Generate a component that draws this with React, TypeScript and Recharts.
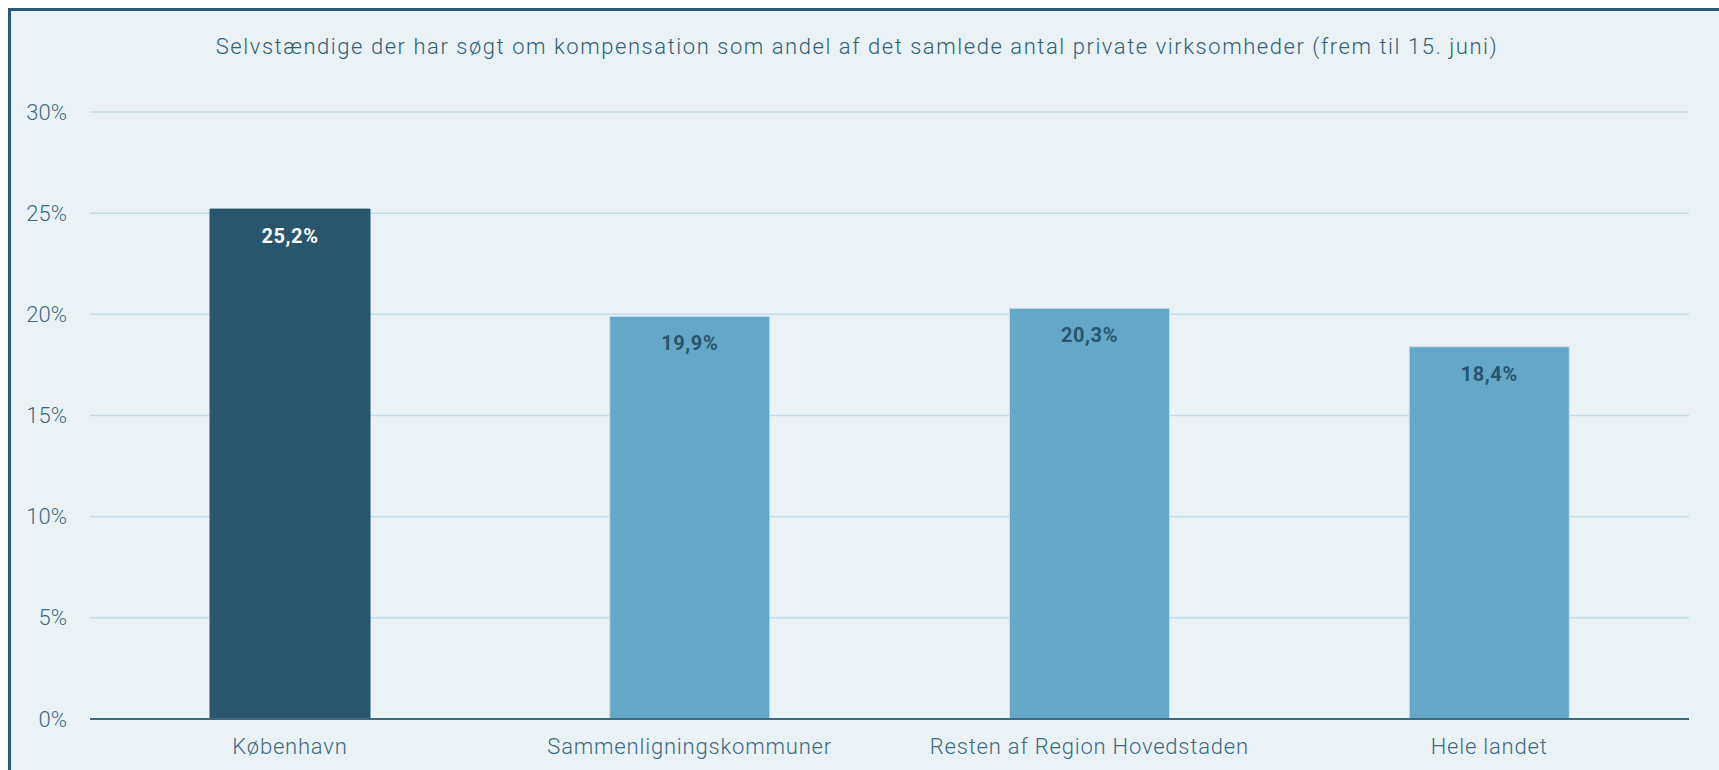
import { BarChart, Bar, XAxis, YAxis, CartesianGrid, Cell, LabelList } from 'recharts'

const categories = ['København', 'Sammenligningskommuner', 'Resten af Region Hovedstaden', 'Hele landet']
const shares = [25.2, 19.9, 20.3, 18.4]
const yTicks = [0, 5, 10, 15, 20, 25, 30]
const title = 'Selvstændige der har søgt om kompensation som andel af det samlede antal private virksomheder (frem til 15. juni)'

const data = categories.map((name, i) => ({ name, share: shares[i] }))

const FONT = 'Roboto, "Open Sans", sans-serif'
const DARK = '#27566e'
const LIGHT = '#65a7c8'
const TEXT = '#3b6a82'

function YTick({ y, payload }: any) {
  return (
    <text x={56} y={y} textAnchor="end" dominantBaseline="central" fontFamily={FONT} fontWeight={300} fontSize={22} fill={TEXT}>
      {payload.value}%
    </text>
  )
}

function XTick({ x, y, payload }: any) {
  return (
    <text x={x} y={y + 19} textAnchor="middle" dominantBaseline="central" fontFamily={FONT} fontWeight={300} fontSize={22} letterSpacing={0.8} fill={TEXT}>
      {payload.value}
    </text>
  )
}

function BarValue({ x, y, width, value, index }: any) {
  return (
    <text
      x={x + width / 2}
      y={y + 27}
      textAnchor="middle"
      dominantBaseline="central"
      fontFamily={FONT}
      fontWeight={700}
      fontSize={20}
      letterSpacing={0.6}
      fill={index === 0 ? '#ffffff' : DARK}
    >
      {String(value).replace('.', ',')}%
    </text>
  )
}

export default function App() {
  return (
    <div
      style={{
        position: 'fixed',
        left: 8,
        top: 8,
        right: 0,
        bottom: 0,
        background: '#eaf2f6',
        borderTop: '3px solid #2b5b73',
        borderLeft: '3px solid #2b5b73',
        overflow: 'hidden',
      }}
    >
      <div
        style={{
          position: 'absolute',
          left: 0,
          width: 1692,
          top: 23,
          lineHeight: '26px',
          textAlign: 'center',
          fontFamily: FONT,
          fontWeight: 300,
          fontSize: 22,
          letterSpacing: 1.55,
          color: '#2f5f77',
          whiteSpace: 'nowrap',
        }}
      >
        {title}
      </div>
      <div style={{ position: 'absolute', left: 0, top: 0 }}>
        <BarChart width={1708} height={759} data={data} margin={{ top: 101, right: 30, bottom: 11, left: 0 }}>
          <CartesianGrid vertical={false} stroke="#c5dde9" strokeWidth={1.5} />
          <XAxis
            dataKey="name"
            height={40}
            tickLine={false}
            axisLine={{ stroke: '#3e6a80', strokeWidth: 2 }}
            tick={<XTick />}
            interval={0}
          />
          <YAxis
            width={79}
            domain={[0, 30]}
            ticks={yTicks}
            axisLine={false}
            tickLine={false}
            tick={<YTick />}
          />
          <Bar dataKey="share" barSize={160} stroke="#c4e0ee" strokeWidth={1} isAnimationActive={false}>
            {data.map((d, i) => (
              <Cell key={d.name} fill={i === 0 ? DARK : LIGHT} stroke={i === 0 ? DARK : '#c4e0ee'} />
            ))}
            <LabelList dataKey="share" content={<BarValue />} />
          </Bar>
        </BarChart>
      </div>
    </div>
  )
}
